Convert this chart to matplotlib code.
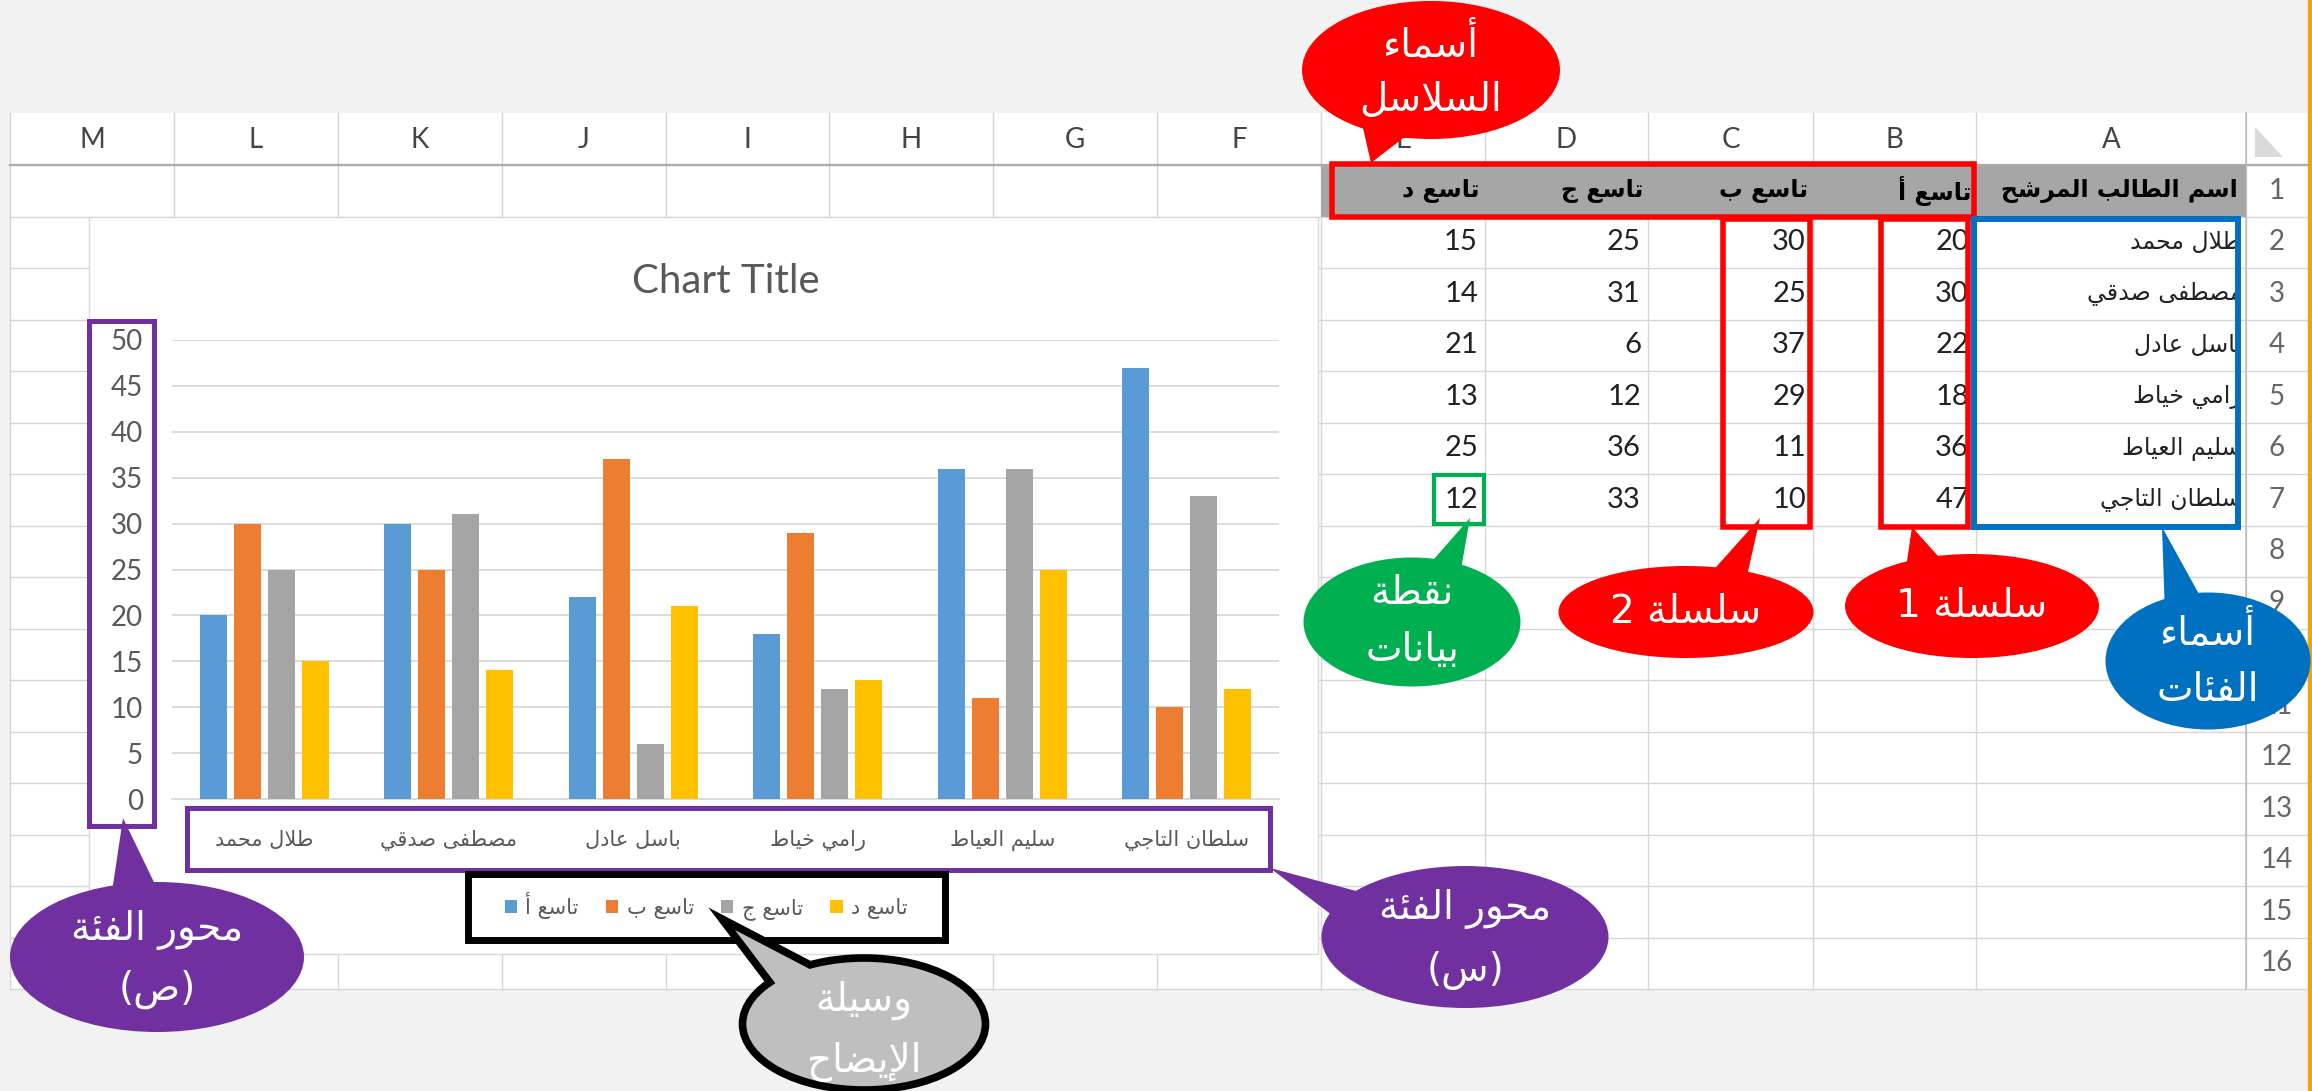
import re
import numpy as np
import matplotlib
matplotlib.use('Agg')
import matplotlib.pyplot as plt
from matplotlib.patches import Rectangle, Ellipse, Polygon

# ---- data ----
students = ['طلال محمد', 'مصطفى صدقي', 'باسل عادل', 'رامي خياط', 'سليم العياط', 'سلطان التاجي']
series_names = ['تاسع أ', 'تاسع ب', 'تاسع ج', 'تاسع د']
grade_a = [20, 30, 22, 18, 36, 47]
grade_b = [30, 25, 37, 29, 11, 10]
grade_c = [25, 31, 6, 12, 36, 33]
grade_d = [15, 14, 21, 13, 25, 12]
header_name = 'اسم الطالب المرشح'
col_letters = ['M', 'L', 'K', 'J', 'I', 'H', 'G', 'F', 'E', 'D', 'C', 'B', 'A']
row_numbers = list(range(1, 17))
y_ticks = list(range(0, 51, 5))
chart_title = 'Chart Title'

colors = ['#5B9BD5', '#ED7D31', '#A5A5A5', '#FFC000']
AR = 'DejaVu Sans'
LAT = 'Lato'

# ---- tiny arabic shaper (matplotlib has no shaping / bidi) ----
DUAL = {'ب': 0xFE8F, 'ت': 0xFE95, 'ث': 0xFE99, 'ج': 0xFE9D, 'ح': 0xFEA1, 'خ': 0xFEA5,
        'س': 0xFEB1, 'ش': 0xFEB5, 'ص': 0xFEB9, 'ض': 0xFEBD, 'ط': 0xFEC1, 'ظ': 0xFEC5,
        'ع': 0xFEC9, 'غ': 0xFECD, 'ف': 0xFED1, 'ق': 0xFED5, 'ك': 0xFED9, 'ل': 0xFEDD,
        'م': 0xFEE1, 'ن': 0xFEE5, 'ه': 0xFEE9, 'ي': 0xFEF1, 'ئ': 0xFE89}
RIGHT = {'آ': 0xFE81, 'أ': 0xFE83, 'ؤ': 0xFE85, 'إ': 0xFE87, 'ا': 0xFE8D, 'ة': 0xFE93,
         'د': 0xFEA9, 'ذ': 0xFEAB, 'ر': 0xFEAD, 'ز': 0xFEAF, 'و': 0xFEED, 'ى': 0xFEEF}
LAMALEF = {'آ': 0xFEF5, 'أ': 0xFEF7, 'إ': 0xFEF9, 'ا': 0xFEFB}
MIRROR = {'(': ')', ')': '('}


def shape_line(text):
    out = []
    i = 0
    while i < len(text):
        c = text[i]
        prev = text[i - 1] if i > 0 else ''
        nxt = text[i + 1] if i + 1 < len(text) else ''
        p = prev in DUAL
        if c == 'ل' and nxt in LAMALEF:
            out.append(chr(LAMALEF[nxt] + (1 if p else 0)))
            i += 2
            continue
        if c in DUAL:
            n = nxt in DUAL or nxt in RIGHT
            out.append(chr(DUAL[c] + (3 if p and n else 1 if p else 2 if n else 0)))
        elif c in RIGHT:
            out.append(chr(RIGHT[c] + (1 if p else 0)))
        elif c == 'ء':
            out.append('\uFE80')
        else:
            out.append(c)
        i += 1
    toks = re.findall(r'[0-9A-Za-z]+|.', ''.join(out))
    return ''.join(MIRROR.get(t, t) for t in reversed(toks))


def ar(text):
    return '\n'.join(shape_line(s) for s in text.split('\n'))


# ---- figure / layout ----
W, H = 2312, 1091
fig = plt.figure(figsize=(W / 100, H / 100), dpi=100)
fig.patch.set_facecolor('#F2F2F2')

bg = fig.add_axes([0, 0, 1, 1])
bg.set_xlim(0, W)
bg.set_ylim(H, 0)
bg.axis('off')
bg.set_zorder(0)

col_edges = [10, 174, 338, 502, 666, 829, 993, 1157, 1321, 1485, 1648, 1813, 1976, 2246, 2307]
top, head_bot, row_h = 113, 165, 51.5
row_edges = [head_bot + k * row_h for k in range(17)]

# sheet + grid
bg.add_patch(Rectangle((col_edges[0], top), col_edges[-1] - col_edges[0], row_edges[-1] - top,
                       fc='white', ec='none', zorder=1))
for yy in row_edges:
    bg.plot([col_edges[0], col_edges[-1]], [yy, yy], color='#D6D6D6', lw=1, zorder=2)
for xx in col_edges[:-1]:
    bg.plot([xx, xx], [top, row_edges[-1]], color='#D6D6D6', lw=1, zorder=2)
bg.plot([col_edges[0], col_edges[-1]], [head_bot, head_bot], color='#ABABAB', lw=1.6, zorder=2)
bg.plot([col_edges[13], col_edges[13]], [top, row_edges[-1]], color='#BDBDBD', lw=1.2, zorder=2)
bg.add_patch(Polygon([(2255, 127), (2255, 157), (2283, 157)], fc='#DADADA', ec='none', zorder=3))
bg.plot([2310, 2310], [0, H], color='#F0A30A', lw=3, zorder=3)

# column letters and row numbers
for i, letter in enumerate(col_letters):
    bg.text((col_edges[i] + col_edges[i + 1]) / 2, 140, letter, ha='center', va='center',
            fontsize=20, color='#444444', family=LAT, zorder=4)
for r in row_numbers:
    bg.text(2277, head_bot + (r - 0.5) * row_h, str(r), ha='center', va='center',
            fontsize=20, color='#666666', family=LAT, zorder=4)

# header row of the table
bg.add_patch(Rectangle((col_edges[8], head_bot + 1), col_edges[13] - col_edges[8], row_h - 1,
                       fc='#A6A6A6', ec='none', zorder=3))
r1 = head_bot + row_h / 2
bg.text(col_edges[13] - 8, r1, ar(header_name), ha='right', va='center', fontsize=17,
        family=AR, weight='bold', color='black', zorder=4)
series_cols = [11, 10, 9, 8]
for name, ci in zip(series_names, series_cols):
    bg.text(col_edges[ci + 1] - 5, r1, ar(name), ha='right', va='center', fontsize=17,
            family=AR, weight='bold', color='black', zorder=4)

# table body
for k, name in enumerate(students):
    yy = head_bot + (k + 1.5) * row_h
    bg.text(col_edges[13] - 4, yy, ar(name), ha='right', va='center', fontsize=17,
            family=AR, color='#222222', zorder=4)
    for vals, ci in zip([grade_a, grade_b, grade_c, grade_d], series_cols):
        bg.text(col_edges[ci + 1] - 7, yy, str(vals[k]), ha='right', va='center',
                fontsize=21, family=LAT, color='#222222', zorder=4)

# chart area (covers the sheet grid)
bg.add_patch(Rectangle((89, 217), 1229, 737, fc='white', ec='#D9D9D9', lw=1, zorder=5))

# ---- bar chart ----
ax = fig.add_axes([172 / W, 1 - 799 / H, 1107 / W, 459 / H])
ax.set_zorder(1)
ax.set_facecolor('none')
x = np.arange(len(students))
bar_w, step = 0.146, 0.184
for i, (vals, name, c) in enumerate(zip([grade_a, grade_b, grade_c, grade_d], series_names, colors)):
    ax.bar(x + (i - 1.5) * step, vals, width=bar_w, color=c, label=ar(name), zorder=3)
ax.set_xlim(-0.5, len(students) - 0.5)
ax.set_ylim(0, 50)
ax.set_yticks(y_ticks, labels=[str(t) for t in y_ticks], fontfamily=LAT, fontsize=20, color='#595959')
ax.set_xticks(x, labels=[ar(s) for s in students], fontfamily=AR, fontsize=15, color='#595959')
ax.yaxis.grid(True, color='#D9D9D9', lw=1.3, zorder=0)
ax.set_axisbelow(True)
for side in ['top', 'left', 'right']:
    ax.spines[side].set_visible(False)
ax.spines['bottom'].set_color('#D9D9D9')
ax.spines['bottom'].set_linewidth(1.3)
ax.tick_params(axis='both', length=0)
ax.tick_params(axis='y', pad=21)
ax.tick_params(axis='x', pad=22)
ax.set_title(chart_title, fontsize=29, color='#595959', family=LAT, pad=34)
ax.legend(loc='center', bbox_to_anchor=(706 / W, 1 - 906 / H), bbox_transform=fig.transFigure,
          ncol=4, frameon=False, prop={'family': AR, 'size': 15}, labelcolor='#595959',
          handlelength=0.6, handleheight=0.6, handletextpad=0.4, columnspacing=1.3)

# ---- annotation overlay ----
ov = fig.add_axes([0, 0, 1, 1])
ov.set_xlim(0, W)
ov.set_ylim(H, 0)
ov.axis('off')
ov.set_zorder(2)
ov.patch.set_alpha(0)


def box(x0, y0, x1, y1, color, lw):
    ov.add_patch(Rectangle((x0, y0), x1 - x0, y1 - y0, fill=False, ec=color, lw=lw))


box(1332, 164, 1974, 217, '#FF0000', 4)
box(1723, 219, 1810, 527, '#FF0000', 4)
box(1881, 219, 1968, 527, '#FF0000', 4)
box(1974, 219, 2238, 527, '#0070C0', 4.3)
box(1434, 475, 1484, 524, '#00B050', 3)
box(89, 321, 154, 826, '#7030A0', 3.6)
box(187, 808, 1270, 870, '#7030A0', 3.6)
box(468, 874, 945, 940, 'black', 5)


def callout(center, w, h, tip, base, color, text, ys, fs=28, edge=None):
    if edge:
        ov.add_patch(Polygon([base[0], tip, base[1]], closed=True, fc=color, ec=edge, lw=11,
                             joinstyle='miter'))
        ov.add_patch(Ellipse(center, w, h, fc=color, ec=edge, lw=5.5))
        ov.add_patch(Polygon([base[0], tip, base[1]], closed=True, fc=color, ec='none'))
    else:
        ov.add_patch(Polygon([base[0], tip, base[1]], closed=True, fc=color, ec='none'))
        ov.add_patch(Ellipse(center, w, h, fc=color, ec='none'))
    for line, yy in zip(text.split('\n'), ys):
        ov.text(center[0], yy, ar(line), ha='center', va='center', fontsize=fs,
                family=AR, color='white')


callout((1431, 70), 258, 138, (1371, 163), [(1360, 115), (1420, 125)], '#FF0000',
        'أسماء\nالسلاسل', [45, 100])
callout((1412, 622), 217, 129, (1470, 518), [(1420, 575), (1460, 575)], '#00B050',
        'نقطة\nبيانات', [593, 650])
callout((1686, 612), 255, 92, (1760, 518), [(1700, 585), (1745, 585)], '#FF0000',
        'سلسلة 2', [612])
callout((1972, 606), 254, 104, (1912, 527), [(1905, 575), (1955, 575)], '#FF0000',
        'سلسلة 1', [606])
callout((2208, 661), 205, 137, (2162, 527), [(2165, 615), (2205, 605)], '#0070C0',
        'أسماء\nالفئات', [632, 690])
callout((1465, 937), 287, 142, (1270, 868), [(1345, 925), (1390, 900)], '#7030A0',
        'محور الفئة\n(س)', [909, 970])
callout((157, 957), 294, 150, (123, 818), [(110, 905), (165, 905)], '#7030A0',
        'محور الفئة\n(ص)', [930, 989])
callout((864, 1024), 243, 132, (735, 930), [(785, 996), (825, 977)], '#BFBFBF',
        'وسيلة\nالإيضاح', [1000, 1062], edge='black')

fig.savefig('out.png', dpi=100, facecolor=fig.get_facecolor())
